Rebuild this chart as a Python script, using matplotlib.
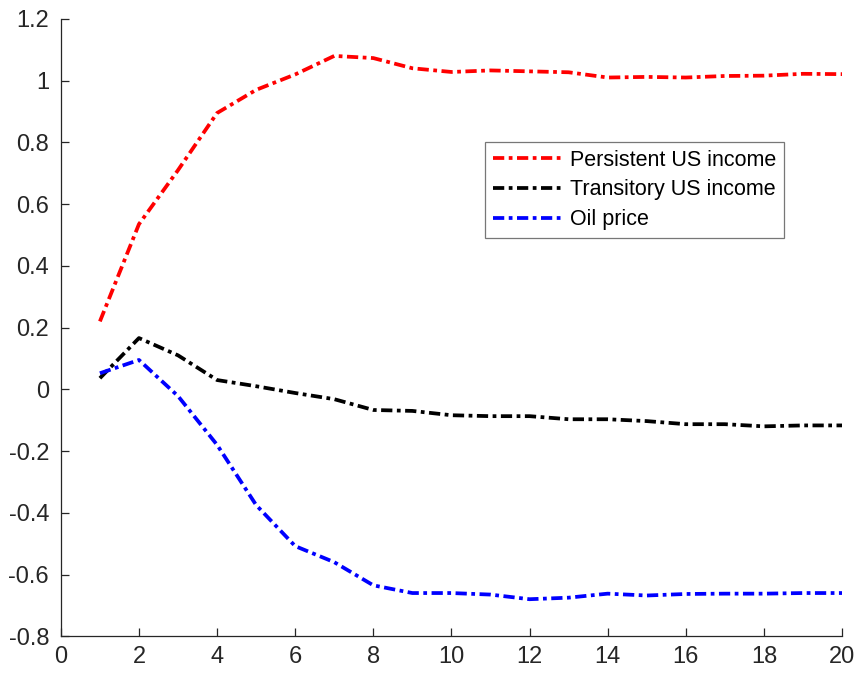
import numpy as np
import matplotlib
matplotlib.use("Agg")
import matplotlib.pyplot as plt

plt.rcParams['font.family'] = ['Liberation Sans', 'DejaVu Sans']

# horizon (quarters)
horizon = list(range(1, 21))

persistent_us = [0.22, 0.535, 0.71, 0.895, 0.97, 1.02, 1.08, 1.073, 1.04, 1.028,
                 1.033, 1.03, 1.027, 1.01, 1.012, 1.01, 1.015, 1.016, 1.022, 1.021]
transitory_us = [0.036, 0.166, 0.11, 0.03, 0.01, -0.012, -0.032, -0.067, -0.07, -0.084,
                 -0.087, -0.087, -0.097, -0.097, -0.103, -0.113, -0.113, -0.12, -0.117, -0.117]
oil_price = [0.052, 0.095, -0.022, -0.18, -0.375, -0.508, -0.56, -0.635, -0.66, -0.66,
             -0.665, -0.68, -0.675, -0.662, -0.668, -0.663, -0.662, -0.662, -0.66, -0.66]

labels = ["Persistent US income", "Transitory US income", "Oil price"]
colors = ["#ff0000", "#000000", "#0000ff"]

fig = plt.figure(figsize=(8.57, 6.74), dpi=100)
ax = fig.add_axes([0.071, 0.056, 0.9115, 0.916])

for series, lab, col in zip([persistent_us, transitory_us, oil_price], labels, colors):
    ax.plot(horizon, series, color=col, lw=2.7, linestyle=(0, (3, 1.2, 1, 1.2)), label=lab)

ax.set_xlim(0, 20)
ax.set_ylim(-0.8, 1.2)
ax.set_xticks(np.arange(0, 21, 2))
ax.set_yticks(np.arange(-0.8, 1.21, 0.2))
ax.set_yticklabels(["-0.8", "-0.6", "-0.4", "-0.2", "0", "0.2", "0.4", "0.6", "0.8", "1", "1.2"])

for s in ["top", "right"]:
    ax.spines[s].set_visible(False)
for s in ["left", "bottom"]:
    ax.spines[s].set_color("#262626")
    ax.spines[s].set_linewidth(0.9)
ax.tick_params(direction="in", length=6, width=0.9, color="#262626",
               labelsize=17, labelcolor="#262626")
ax.tick_params(axis="y", pad=8.5)
ax.tick_params(axis="x", pad=7)

leg = ax.legend(loc="upper left", bbox_to_anchor=(0.543, 0.80), fontsize=15.5,
                handlelength=3.35, frameon=True, fancybox=False, borderaxespad=0,
                labelspacing=0.4, handletextpad=0.25, borderpad=0.35)
leg.get_frame().set_edgecolor("#555555")
leg.get_frame().set_linewidth(0.9)

fig.savefig("out.png", dpi=100)
